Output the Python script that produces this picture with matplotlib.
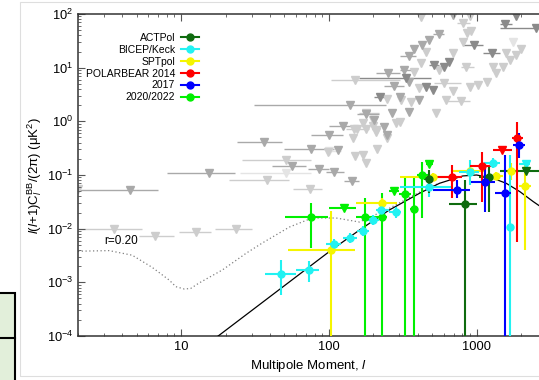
import matplotlib
matplotlib.use("Agg")
import numpy as np
import matplotlib.pyplot as plt
from matplotlib import ticker
from matplotlib.lines import Line2D
from matplotlib.patches import Rectangle

plt.rcParams["font.family"] = "Liberation Sans"
plt.rcParams["mathtext.fontset"] = "custom"
plt.rcParams["mathtext.rm"] = "Liberation Sans"
plt.rcParams["mathtext.it"] = "Liberation Sans:italic"
plt.rcParams["mathtext.bf"] = "Liberation Sans:bold"

# --- theory curves ---
lens_ell = [15.0, 17.8, 104, 161, 257, 411, 561, 807, 1001, 1290, 1590, 1965, 2420, 2700]
lens_dl = [7.0e-5, 1.0e-4, 0.0040, 0.0094, 0.0223, 0.0456, 0.070, 0.096, 0.100, 0.087, 0.070, 0.049, 0.032, 0.026]

r02_ell = [2.0, 3.25, 4.66, 6.36, 8.3, 9.2, 10.5, 11.6, 13.2, 19.0, 27.6, 35.4, 54, 77, 112, 161, 257, 411, 561]
r02_dl = [0.0038, 0.0039, 0.0032, 0.0019, 0.0011, 0.00083, 0.00075, 0.00077, 0.00097, 0.0017, 0.0035,
          0.0054, 0.0107, 0.0158, 0.0158, 0.0133, 0.024, 0.048, 0.071]

# --- older upper limits (grey triangles): ell, Dl, ell_lo, ell_hi, shade ---
ul_ell = [4.5, 2.0, 15.5, 3.5, 6.6, 12.6, 23.5, 36.5, 76, 51,
          56, 86, 109, 51, 38, 144, 74, 101, 98, 116,
          150, 124, 149, 145, 138, 151, 250, 278, 223, 249,
          179, 200, 154, 179, 207, 238, 249, 248, 101, 213,
          422, 688, 897, 1860, 807, 1565, 2540, 553, 859, 921,
          480, 816, 969, 1765, 2010, 428, 376, 1270, 456, 1590,
          1860, 351, 422, 519, 656, 692, 1290, 1508, 1675, 561,
          607, 325, 380, 851, 334, 351, 1361, 1182, 1021, 897,
          688, 607, 456, 506, 411, 301, 309, 406, 361, 787,
          623, 533, 267, 351, 179, 203, 301, 198, 169, 210,
          287, 170, 179]
ul_dl = [0.053, 0.055, 0.11, 0.0097, 0.0073, 0.0088, 0.0099, 0.42, 0.30, 0.19,
         0.15, 0.13, 0.115, 0.108, 0.081, 0.077, 0.055, 0.56, 0.27, 0.29,
         0.23, 0.82, 0.71, 0.48, 2.0, 5.9, 7.9, 4.6, 2.8, 2.6,
         1.35, 1.06, 0.72, 0.72, 0.64, 0.79, 0.56, 0.48, 0.28, 0.31,
         89, 96, 92, 92, 69, 65, 54, 42, 44, 49,
         33, 30, 26, 30, 22, 26, 22, 19, 20, 18.5,
         17, 16.7, 12, 11, 13, 18.5, 10.4, 10.4, 14, 9.0,
         10.4, 9.0, 8.4, 10.4, 6.3, 5.5, 7.9, 5.5, 4.8, 4.4,
         3.6, 5.1, 4.3, 3.8, 4.1, 2.9, 2.5, 2.5, 2.3, 2.4,
         2.5, 1.41, 1.45, 1.51, 1.41, 1.06, 0.98, 0.82, 0.93, 0.69,
         0.93, 0.24, 0.17]
ul_lo = [2.0, 2.0, 8.0, 2.0, 5.2, 9.7, 17, 24, 50, 26,
         41, 72, 95, 25, 21, 127, 57, 76, 98, 116,
         150, 101, 149, 145, 31, 103, 210, 238, 203, 249,
         154, 200, 131, 179, 207, 238, 249, 248, 95, 213,
         422, 688, 897, 1860, 740, 1433, 1433, 506, 859, 921,
         480, 816, 807, 1765, 2010, 428, 376, 1098, 456, 1590,
         1860, 301, 422, 480, 656, 692, 1290, 1508, 1675, 561,
         607, 301, 380, 780, 161, 351, 1361, 1182, 1021, 897,
         688, 519, 456, 506, 411, 301, 309, 406, 361, 623,
         623, 533, 267, 351, 161, 203, 301, 198, 169, 210,
         287, 170, 179]
ul_hi = [7.0, 2.0, 23, 5.4, 9.0, 16, 30, 48, 109, 76,
         70, 101, 127, 76, 54, 161, 90, 124, 98, 116,
         150, 154, 149, 145, 244, 301, 301, 325, 238, 249,
         220, 200, 188, 179, 207, 238, 249, 248, 120, 213,
         422, 688, 897, 1860, 897, 1726, 2700, 607, 859, 921,
         480, 816, 1098, 1765, 2010, 428, 376, 1433, 456, 1590,
         1860, 391, 422, 561, 656, 692, 1290, 1508, 1675, 561,
         607, 364, 380, 960, 493, 351, 1361, 1182, 1021, 897,
         688, 780, 456, 506, 411, 301, 309, 406, 361, 897,
         623, 533, 267, 351, 220, 203, 301, 198, 169, 210,
         287, 170, 179]
ul_shade = list("mlmllllmml" "mmmvlmlmlm" "lmllmlmmdl" "mllllmmlvl" "lmldlddmll"
                "mldvlmmdll" "lmlddlllll" "dmlldmllll" "llddlmlmll" "llmmlmllll" "lll")

shade_colors = {"d": "#8a8a8a", "m": "#a9a9a9", "l": "#cdcdcd", "v": "#e4e4e4"}

# --- recent measurements: ell, Dl, ell_lo, ell_hi, Dl_lo, Dl_hi ---
act_ell = [480, 838, 1211]
act_dl = [0.085, 0.0288, 0.093]
act_elo = [444, 656, 1047]
act_ehi = [536, 1008, 1433]
act_dlo = [0.046, 1e-6, 0.0207]
act_dhi = [0.124, 0.081, 0.154]
act_ul = ([2148], [0.12], [1433], [3000])

bk_ell = [47.4, 73.8, 108, 138, 169, 198, 226, 283, 480, 897, 1291, 1690]
bk_dl = [0.00141, 0.0017, 0.0051, 0.0068, 0.0091, 0.0145, 0.0223, 0.0207, 0.0606, 0.115, 0.165, 0.0109]
bk_elo = [37.1, 60.2, 95.7, 124, 156, 182, 210, 257, 301, 767, 1132, 1600]
bk_ehi = [60, 86.3, 121, 156, 188, 220, 257, 310, 688, 1047, 1433, 1780]
bk_dlo = [0.00058, 0.00103, 0.0040, 0.0054, 0.0073, 0.0117, 0.018, 0.0157, 0.039, 0.065, 0.137, 1e-6]
bk_dhi = [0.0026, 0.0025, 0.0064, 0.0083, 0.0112, 0.018, 0.0277, 0.0257, 0.081, 0.187, 0.21, 0.236]
bk_ul = ([2148], [0.158], [1950], [2300])

spt_ell = [103, 228, 506, 910, 1346, 1717, 2138]
spt_dl = [0.0040, 0.0297, 0.093, 0.117, 0.096, 0.119, 0.0624]
spt_elo = [52.6, 153, 301, 673, 1132, 1500, 1950]
spt_ehi = [151, 290, 688, 1132, 1500, 1950, 2350]
spt_dlo = [1e-6, 0.024, 0.078, 0.10, 0.08, 0.081, 0.004]
spt_dhi = [0.0213, 0.037, 0.11, 0.14, 0.115, 0.167, 0.177]

pb14_ell = [682, 1089, 1883]
pb14_dl = [0.093, 0.149, 0.483]
pb14_elo = [480, 897, 1726]
pb14_ehi = [803, 1265, 2051]
pb14_dlo = [0.0368, 0.0318, 0.0057]
pb14_dhi = [0.154, 0.272, 0.98]
pb14_ul = ([1493], [0.292], [1284], [1726])

pb17_ell = [735, 1146, 1549, 1935]
pb17_dl = [0.0526, 0.0747, 0.0456, 0.362]
pb17_elo = [506, 921, 1325, 1754]
pb17_ehi = [906, 1325, 1718, 2114]
pb17_dlo = [0.0368, 0.0207, 1e-6, 0.205]
pb17_dhi = [0.081, 0.133, 0.236, 0.60]

pb22_ell = [75.7, 176, 228, 329, 380, 430]
pb22_dl = [0.0167, 0.0167, 0.0167, 0.0443, 0.023, 0.10]
pb22_elo = [50.7, 153, 210, 300, 357, 398]
pb22_ehi = [99.3, 210, 248, 362, 398, 466]
pb22_dlo = [0.0043, 1e-6, 1e-6, 1e-6, 1e-6, 0.0156]
pb22_dhi = [0.0297, 0.0368, 0.0456, 0.088, 0.093, 0.177]
pb22_ul = ([126, 278, 480], [0.024, 0.051, 0.158], [101, 257, 455], [153, 300, 506])

labels = ["ACTPol", "BICEP/Keck", "SPTpol", "POLARBEAR 2014", "2017", "2020/2022"]
colors = ["#0f6b0f", "#22f2f2", "#f5f500", "#ff0000", "#0000ff", "#00f000"]

fig = plt.figure(figsize=(5.39, 3.8), dpi=100)

# surrounding page decorations
fig.patches.append(Rectangle((19.5 / 539, 1 - 375.5 / 380), 1.0, 373.5 / 380, transform=fig.transFigure,
                             fill=False, ec="#dedede", lw=0.8, zorder=0))
fig.patches.append(Rectangle((-0.02, -0.02), 0.02 + 14.5 / 539, 0.02 + (380 - 293) / 380,
                             transform=fig.transFigure, fc="#e2efda", ec="black", lw=1.5, zorder=0))
fig.add_artist(Line2D([0, 14.5 / 539], [1 - 338 / 380, 1 - 338 / 380], transform=fig.transFigure,
                      color="black", lw=1.5))

ax = fig.add_axes([78 / 539, 1 - 336 / 380, 1 - 78 / 539, 322 / 380])
ax.set_xscale("log")
ax.set_yscale("log")
ax.set_xlim(2, 2650)
ax.set_ylim(1e-4, 1e2)

# grey upper limits
ul_ell_a = np.array(ul_ell, dtype=float)
ul_dl_a = np.array(ul_dl, dtype=float)
ul_lo_a = np.array(ul_lo, dtype=float)
ul_hi_a = np.array(ul_hi, dtype=float)
shades = np.array(ul_shade)
for key in ["v", "l", "m", "d"]:
    m = shades == key
    ax.errorbar(ul_ell_a[m], ul_dl_a[m], xerr=[ul_ell_a[m] - ul_lo_a[m], ul_hi_a[m] - ul_ell_a[m]],
                fmt="v", color=shade_colors[key], ms=5.5, elinewidth=1.0, capsize=0, zorder=1)

# theory
ax.plot(r02_ell, r02_dl, ls=(0, (1, 2)), color="#808080", lw=0.9, zorder=2)
ax.plot(lens_ell, lens_dl, color="black", lw=0.9, zorder=3)
ax.text(3.9, 0.0059, "r=0.20", fontsize=8.5, ha="center", va="center")


def draw(ell, dl, elo, ehi, dlo, dhi, color, ul=None):
    ell = np.array(ell)
    dl = np.array(dl)
    ax.errorbar(ell, dl, xerr=[ell - np.array(elo), np.array(ehi) - ell],
                yerr=[dl - np.array(dlo), np.array(dhi) - dl],
                fmt="o", color=color, ms=5, elinewidth=1.5, capsize=0, zorder=5)
    if ul is not None:
        u_ell, u_dl, u_lo, u_hi = [np.array(v, dtype=float) for v in ul]
        ax.errorbar(u_ell, u_dl, xerr=[u_ell - u_lo, u_hi - u_ell], fmt="v", color=color,
                    ms=5.5, elinewidth=1.5, capsize=0, zorder=5)


draw(pb22_ell, pb22_dl, pb22_elo, pb22_ehi, pb22_dlo, pb22_dhi, colors[5], pb22_ul)
draw(spt_ell, spt_dl, spt_elo, spt_ehi, spt_dlo, spt_dhi, colors[2])
draw(bk_ell, bk_dl, bk_elo, bk_ehi, bk_dlo, bk_dhi, colors[1], bk_ul)
draw(act_ell, act_dl, act_elo, act_ehi, act_dlo, act_dhi, colors[0], act_ul)
draw(pb14_ell, pb14_dl, pb14_elo, pb14_ehi, pb14_dlo, pb14_dhi, colors[3], pb14_ul)
draw(pb17_ell, pb17_dl, pb17_elo, pb17_ehi, pb17_dlo, pb17_dhi, colors[4])

# axes styling
ax.xaxis.set_major_locator(ticker.FixedLocator([10, 100, 1000]))
ax.xaxis.set_major_formatter(ticker.FixedFormatter(["10", "100", "1000"]))
ax.xaxis.set_minor_locator(ticker.LogLocator(base=10, subs=np.arange(2, 10), numticks=20))
ax.xaxis.set_minor_formatter(ticker.NullFormatter())
ax.yaxis.set_major_locator(ticker.FixedLocator([1e-4, 1e-3, 1e-2, 1e-1, 1e0, 1e1, 1e2]))
ax.yaxis.set_major_formatter(ticker.LogFormatterSciNotation())
ax.yaxis.set_minor_locator(ticker.LogLocator(base=10, subs=np.arange(2, 10), numticks=20))
ax.yaxis.set_minor_formatter(ticker.NullFormatter())
ax.tick_params(which="both", direction="in", top=True, right=False, colors="#555555",
               labelcolor="black", labelsize=9.3)
ax.tick_params(which="major", length=5, width=0.8)
ax.tick_params(which="minor", length=2.5, width=0.6)
ax.spines["right"].set_visible(False)
for s in ["left", "bottom", "top"]:
    ax.spines[s].set_color("#333333")
    ax.spines[s].set_linewidth(1.1)

ax.set_xlabel(r"Multipole Moment, $\mathit{l}$", fontsize=9.5, labelpad=4)
ax.set_ylabel(r"$\mathit{l}(\mathit{l}$+1)C$_{\mathit{l}}^{\mathrm{BB}}$/(2π) (μK$^2$)",
              fontsize=9.5, labelpad=2)

handles = [Line2D([], [], color=c, marker="o", ms=5, lw=1.5) for c in colors]
ax.legend(handles, labels, loc="upper right", bbox_to_anchor=(121 / 461, 1 - 19 / 322), frameon=False,
          markerfirst=False, fontsize=7.5, handlelength=1.75, handletextpad=0.55, labelspacing=0.18,
          borderpad=0, borderaxespad=0)

fig.savefig("out.png", dpi=100)
